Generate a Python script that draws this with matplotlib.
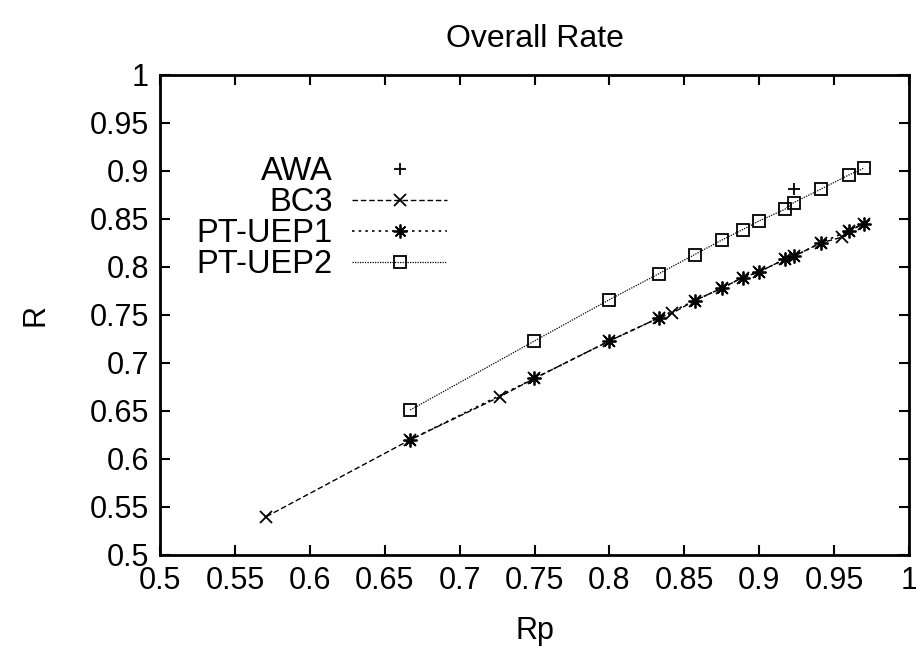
import numpy as np
import matplotlib.pyplot as plt

plt.rcParams['font.family'] = ['Liberation Sans', 'DejaVu Sans']

# AWA: single point
awa_x = [0.923]
awa_y = [0.881]

# BC3
bc3_x = [0.571, 0.667, 0.727, 0.75, 0.8, 0.833, 0.842, 0.857, 0.875, 0.889,
         0.9, 0.917, 0.923, 0.941, 0.955, 0.96, 0.97]
bc3_y = [0.540, 0.620, 0.665, 0.684, 0.723, 0.747, 0.752, 0.765, 0.778, 0.789,
         0.795, 0.808, 0.811, 0.825, 0.831, 0.838, 0.845]

# PT-UEP1
uep1_x = [0.667, 0.75, 0.8, 0.833, 0.857, 0.875, 0.889, 0.9, 0.917, 0.923,
          0.941, 0.96, 0.97]
uep1_y = [0.620, 0.684, 0.723, 0.747, 0.765, 0.778, 0.789, 0.795, 0.808, 0.811,
          0.825, 0.838, 0.845]

# PT-UEP2
uep2_x = [0.667, 0.75, 0.8, 0.833, 0.857, 0.875, 0.889, 0.9, 0.917, 0.923,
          0.941, 0.96, 0.97]
uep2_y = [0.651, 0.723, 0.766, 0.793, 0.813, 0.828, 0.839, 0.848, 0.860, 0.867,
          0.881, 0.896, 0.903]

ticks = np.arange(0.5, 1.001, 0.05)
tick_labels = ['0.5', '0.55', '0.6', '0.65', '0.7', '0.75', '0.8', '0.85',
               '0.9', '0.95', '1']

fig = plt.figure(figsize=(9.16, 6.61), dpi=100)
ax = fig.add_axes([160 / 916, 1 - 555 / 661, 749 / 916, 480 / 661])

asterisk = (8, 2, 0)
ax.plot(awa_x, awa_y, ls='none', marker='+', ms=9, mew=1.3, color='black', label='AWA')
ax.plot(bc3_x, bc3_y, ls=(0, (4, 2)), lw=1.0, marker='x', ms=8, mew=1.3,
        color='black', label='BC3')
ax.plot(uep1_x, uep1_y, ls=(0, (1.5, 2.5)), lw=1.2, marker=asterisk, ms=10, mew=1.3,
        color='black', label='PT-UEP1')
ax.plot(uep2_x, uep2_y, ls=(0, (1, 1)), lw=0.9, marker='s', ms=8, mew=1.3,
        mfc='none', color='black', label='PT-UEP2')

ax.set_xlim(0.5, 1)
ax.set_ylim(0.5, 1)
ax.set_xticks(ticks)
ax.set_yticks(ticks)
ax.set_xticklabels(tick_labels)
ax.set_yticklabels(tick_labels)
ax.tick_params(direction='in', length=7, width=1.5, labelsize=22, top=True, right=True,
               pad=8)
for s in ax.spines.values():
    s.set_linewidth(2)

ax.set_title('Overall Rate', fontsize=23, pad=20)
ax.set_xlabel('Rp', fontsize=22, labelpad=14)
ax.set_ylabel('R', fontsize=22, labelpad=28)

leg = ax.legend(loc='upper right', bbox_to_anchor=(447 / 916, 1 - 156 / 661),
                bbox_transform=fig.transFigure, frameon=False, markerfirst=False,
                fontsize=23.5, handlelength=2.9, handletextpad=0.6, labelspacing=0.0,
                borderpad=0, borderaxespad=0)

fig.savefig('out.png', dpi=100)
